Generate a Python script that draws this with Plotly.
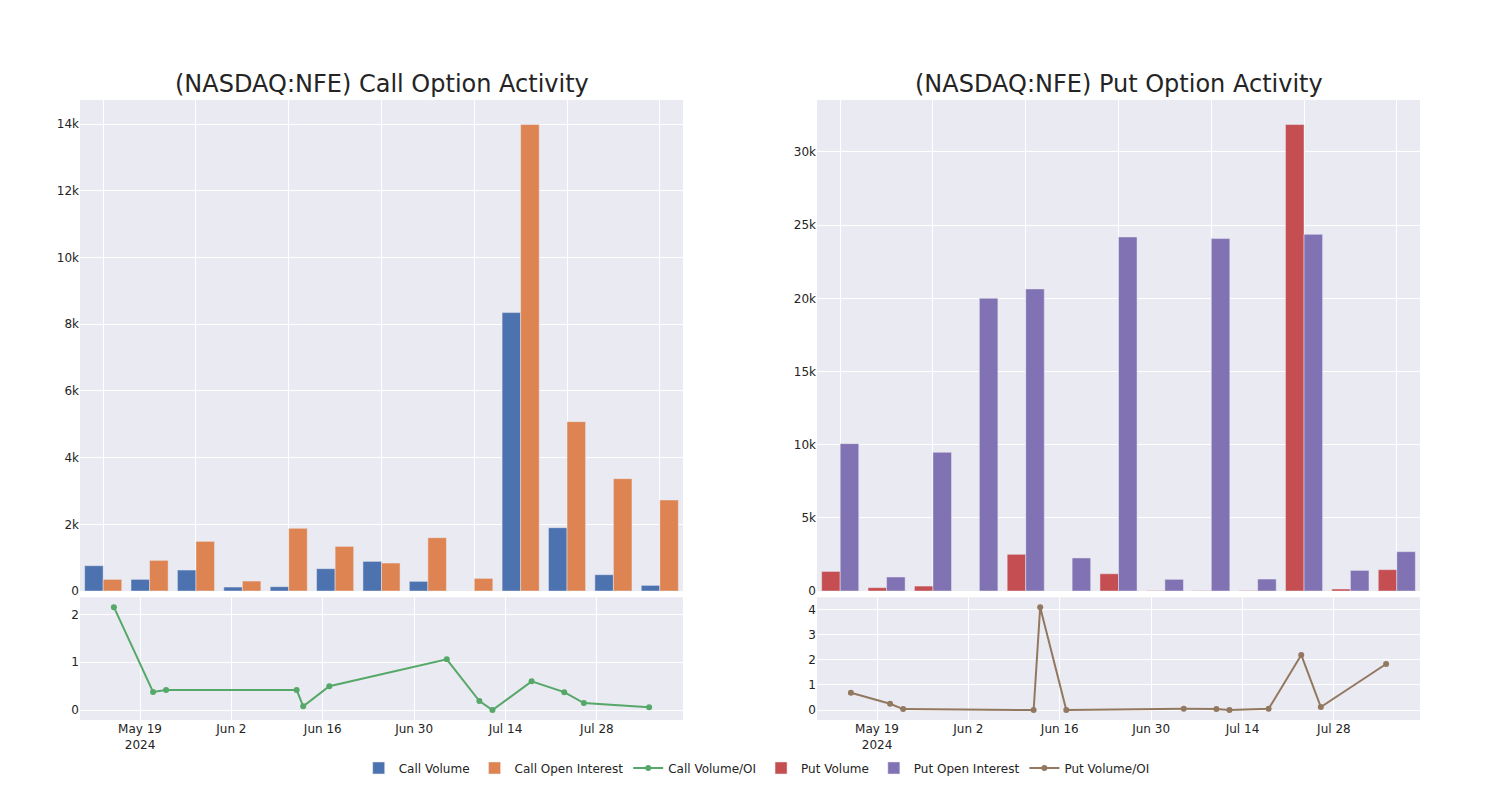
import plotly.graph_objects as go
from plotly.subplots import make_subplots

dates = ["2024-05-15", "2024-05-21", "2024-05-23", "2024-06-12", "2024-06-13",
         "2024-06-17", "2024-07-05", "2024-07-10", "2024-07-12", "2024-07-18",
         "2024-07-23", "2024-07-26", "2024-08-05"]

call_volume = [760, 350, 630, 120, 130, 670, 890, 290, 0, 8350, 1900, 490, 170]
call_oi = [350, 920, 1490, 300, 1880, 1340, 840, 1600, 380, 13990, 5080, 3370, 2730]
call_ratio = [2.15, 0.38, 0.42, 0.42, 0.08, 0.50, 1.06, 0.19, 0.0, 0.60, 0.375, 0.146, 0.06]

put_volume = [1340, 230, 340, 0, 2510, 0, 1180, 20, 20, 30, 31870, 140, 1460]
put_oi = [10070, 960, 9480, 20000, 20640, 2260, 24190, 800, 24080, 820, 24370, 1410, 2690]
put_ratio = [0.69, 0.25, 0.04, 0.0, 4.09, 0.0, 0.05, 0.04, 0.0, 0.05, 2.19, 0.12, 1.83]

fig = make_subplots(
    rows=2, cols=2,
    row_heights=[0.8, 0.2],
    vertical_spacing=0.01,
    horizontal_spacing=0.1,
    subplot_titles=["(NASDAQ:NFE) Call Option Activity", "(NASDAQ:NFE) Put Option Activity", "", ""],
)

fig.add_trace(go.Bar(x=dates, y=call_volume, name="Call Volume"), row=1, col=1)
fig.add_trace(go.Bar(x=dates, y=call_oi, name="Call Open Interest"), row=1, col=1)
fig.add_trace(go.Scatter(x=dates, y=call_ratio, name="Call Volume/OI", mode="lines+markers"), row=2, col=1)
fig.add_trace(go.Bar(x=dates, y=put_volume, name="Put Volume"), row=1, col=2)
fig.add_trace(go.Bar(x=dates, y=put_oi, name="Put Open Interest"), row=1, col=2)
fig.add_trace(go.Scatter(x=dates, y=put_ratio, name="Put Volume/OI", mode="lines+markers"), row=2, col=2)

fig.update_xaxes(type="category", showticklabels=False, dtick=2, tick0=0, row=1)
fig.update_xaxes(type="date", row=2)

for ann in fig.layout.annotations:
    ann.font.size = 24

fig.update_layout(
    template="seaborn",
    font=dict(family="DejaVu Sans"),
    width=1500, height=800,
    margin=dict(l=80, r=80, t=100, b=80),
    legend=dict(orientation="h", x=0.505, xanchor="center", y=-0.054, yanchor="top"),
)

fig.write_html("out.html")
